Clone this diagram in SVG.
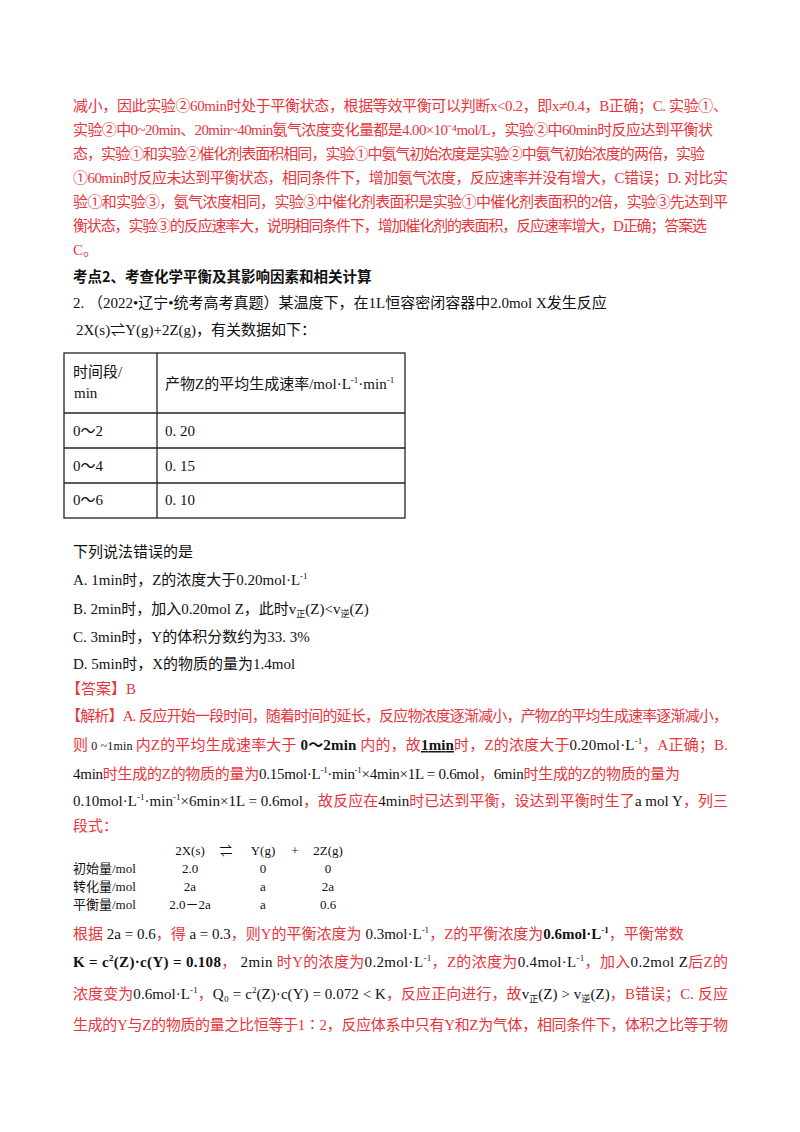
<svg xmlns="http://www.w3.org/2000/svg" width="800" height="1132" viewBox="0 0 800 1132">
<style>
text{font-family:"Liberation Serif","Noto Sans CJK SC",serif;font-size:15px;fill:#111}
.r{fill:#e8353d}
.k{fill:#111}
.b{font-weight:bold}
.s{font-size:9px}
.h{font-family:"Noto Sans CJK SC",sans-serif;font-weight:bold;font-size:14.5px}
.m{font-size:13px}
</style>
<rect width="800" height="1132" fill="#fff"/>
<g id="para1">
<text class="r" x="73" y="111" textLength="655" lengthAdjust="spacing">减小，因此实验②60min时处于平衡状态，根据等效平衡可以判断x&lt;0.2，即x≠0.4，B正确；C. 实验①、</text>
<text class="r" x="73" y="135" textLength="640" lengthAdjust="spacing">实验②中0~20min、20min~40min氨气浓度变化量都是4.00×10⁻⁴mol/L，实验②中60min时反应达到平衡状</text>
<text class="r" x="73" y="159" textLength="632" lengthAdjust="spacing">态，实验①和实验②催化剂表面积相同，实验①中氨气初始浓度是实验②中氨气初始浓度的两倍，实验</text>
<text class="r" x="73" y="183" textLength="655" lengthAdjust="spacing">①60min时反应未达到平衡状态，相同条件下，增加氨气浓度，反应速率并没有增大，C错误；D. 对比实</text>
<text class="r" x="73" y="207" textLength="655" lengthAdjust="spacing">验①和实验③，氨气浓度相同，实验③中催化剂表面积是实验①中催化剂表面积的2倍，实验③先达到平</text>
<text class="r" x="73" y="231" textLength="634" lengthAdjust="spacing">衡状态，实验③的反应速率大，说明相同条件下，增加催化剂的表面积，反应速率增大，D正确；答案选</text>
<text class="r" x="73" y="255">C。</text>
</g>
<g id="question">
<text class="h" x="73" y="282">考点2、考查化学平衡及其影响因素和相关计算</text>
<text x="73" y="308">2. （2022•辽宁•统考高考真题）某温度下，在1L恒容密闭容器中2.0mol X发生反应</text>
<text x="76" y="335">2X(s)⇌Y(g)+2Z(g)，有关数据如下：</text>
</g>
<g id="table" fill="none" stroke="#222" stroke-width="1.3">
<rect x="64" y="353" width="341" height="165"/>
<line x1="157" y1="353" x2="157" y2="518"/>
<line x1="64" y1="413" x2="405" y2="413"/>
<line x1="64" y1="448" x2="405" y2="448"/>
<line x1="64" y1="483" x2="405" y2="483"/>
</g>
<g id="table-text">
<text x="73" y="377">时间段/</text>
<text x="74" y="398">min</text>
<text x="165" y="389">产物Z的平均生成速率/mol·L<tspan class="s" dy="-6">-1</tspan><tspan dy="6">·min</tspan><tspan class="s" dy="-6">-1</tspan></text>
<text x="73" y="436">0～2</text><text x="165" y="436">0. 20</text>
<text x="73" y="471">0～4</text><text x="165" y="471">0. 15</text>
<text x="73" y="505">0～6</text><text x="165" y="505">0. 10</text>
</g>
<g id="options">
<text x="73" y="557">下列说法错误的是</text>
<text x="73" y="585">A. 1min时，Z的浓度大于0.20mol·L<tspan class="s" dy="-6">-1</tspan></text>
<text x="73" y="614">B. 2min时，加入0.20mol Z，此时v<tspan class="s" dy="3">正</tspan><tspan dy="-3">(Z)&lt;v</tspan><tspan class="s" dy="3">逆</tspan><tspan dy="-3">(Z)</tspan></text>
<text x="73" y="642">C. 3min时，Y的体积分数约为33. 3%</text>
<text x="73" y="669">D. 5min时，X的物质的量为1.4mol</text>
</g>
<g id="answer">
<text class="r" x="66" y="694">【答案】B</text>
<text class="r" x="66" y="721" textLength="662" lengthAdjust="spacing">【解析】A. 反应开始一段时间，随着时间的延长，反应物浓度逐渐减小，产物Z的平均生成速率逐渐减小，</text>
<text class="r" x="73" y="750" textLength="655" lengthAdjust="spacing">则<tspan class="k" font-size="12"> 0 ~1min </tspan>内Z的平均生成速率大于<tspan class="k b"> 0～2min </tspan>内的，故<tspan class="k b" text-decoration="underline">1min</tspan>时，Z的浓度大于<tspan class="k">0.20mol·L</tspan><tspan class="k s" dy="-6">-1</tspan><tspan dy="6">，A正确；B.</tspan></text>
<text class="r" x="73" y="779" textLength="607" lengthAdjust="spacing"><tspan class="k">4min</tspan>时生成的Z的物质的量为<tspan class="k">0.15mol·L</tspan><tspan class="k s" dy="-6">-1</tspan><tspan class="k" dy="6">·min</tspan><tspan class="k s" dy="-6">-1</tspan><tspan class="k" dy="6">×4min×1L = 0.6mol</tspan>，<tspan class="k">6min</tspan>时生成的Z的物质的量为</text>
<text class="r" x="73" y="806" textLength="655" lengthAdjust="spacing"><tspan class="k">0.10mol·L</tspan><tspan class="k s" dy="-6">-1</tspan><tspan class="k" dy="6">·min</tspan><tspan class="k s" dy="-6">-1</tspan><tspan class="k" dy="6">×6min×1L = 0.6mol</tspan>，故反应在<tspan class="k">4min</tspan>时已达到平衡，设达到平衡时生了<tspan class="k">a mol Y</tspan>，列三</text>
<text class="r" x="73" y="831">段式：</text>
</g>
<g id="ice">
<text class="m" x="190" y="855" text-anchor="middle">2X(s)</text>
<text class="m" x="226" y="855" text-anchor="middle">⇌</text>
<text class="m" x="263" y="855" text-anchor="middle">Y(g)</text>
<text class="m" x="295" y="855" text-anchor="middle">+</text>
<text class="m" x="328" y="855" text-anchor="middle">2Z(g)</text>
<text class="m" x="73" y="873">初始量/mol</text>
<text class="m" x="190" y="873" text-anchor="middle">2.0</text>
<text class="m" x="263" y="873" text-anchor="middle">0</text>
<text class="m" x="328" y="873" text-anchor="middle">0</text>
<text class="m" x="73" y="891">转化量/mol</text>
<text class="m" x="190" y="891" text-anchor="middle">2a</text>
<text class="m" x="263" y="891" text-anchor="middle">a</text>
<text class="m" x="328" y="891" text-anchor="middle">2a</text>
<text class="m" x="73" y="909">平衡量/mol</text>
<text class="m" x="190" y="909" text-anchor="middle">2.0－2a</text>
<text class="m" x="263" y="909" text-anchor="middle">a</text>
<text class="m" x="328" y="909" text-anchor="middle">0.6</text>
</g>
<g id="solution">
<text class="r" x="73" y="939">根据<tspan class="k"> 2a = 0.6</tspan>，得<tspan class="k"> a = 0.3</tspan>，则Y的平衡浓度为<tspan class="k"> 0.3mol·L</tspan><tspan class="k s" dy="-6">-1</tspan><tspan dy="6">，Z的平衡浓度为</tspan><tspan class="k b">0.6mol·L</tspan><tspan class="k s b" dy="-6">-1</tspan><tspan dy="6">，平衡常数</tspan></text>
<text class="r" x="73" y="967" textLength="655" lengthAdjust="spacing"><tspan class="k b">K = c</tspan><tspan class="k b s" dy="-6">2</tspan><tspan class="k b" dy="6">(Z)·c(Y) = 0.108</tspan>，<tspan class="k"> 2min </tspan>时Y的浓度为<tspan class="k">0.2mol·L</tspan><tspan class="k s" dy="-6">-1</tspan><tspan dy="6">，Z的浓度为</tspan><tspan class="k">0.4mol·L</tspan><tspan class="k s" dy="-6">-1</tspan><tspan dy="6">，加入</tspan><tspan class="k">0.2mol Z</tspan>后Z的</text>
<text class="r" x="73" y="999" textLength="655" lengthAdjust="spacing">浓度变为<tspan class="k">0.6mol·L</tspan><tspan class="k s" dy="-6">-1</tspan><tspan dy="6">，</tspan><tspan class="k">Q₀ = c</tspan><tspan class="k s" dy="-6">2</tspan><tspan class="k" dy="6">(Z)·c(Y) = 0.072 &lt; K</tspan>，反应正向进行，故<tspan class="k">v</tspan><tspan class="k s" dy="3">正</tspan><tspan class="k" dy="-3">(Z) &gt; v</tspan><tspan class="k s" dy="3">逆</tspan><tspan class="k" dy="-3">(Z)</tspan>，B错误；C. 反应</text>
<text class="r" x="73" y="1030" textLength="655" lengthAdjust="spacing">生成的Y与Z的物质的量之比恒等于1∶2，反应体系中只有Y和Z为气体，相同条件下，体积之比等于物</text>
</g>
</svg>
